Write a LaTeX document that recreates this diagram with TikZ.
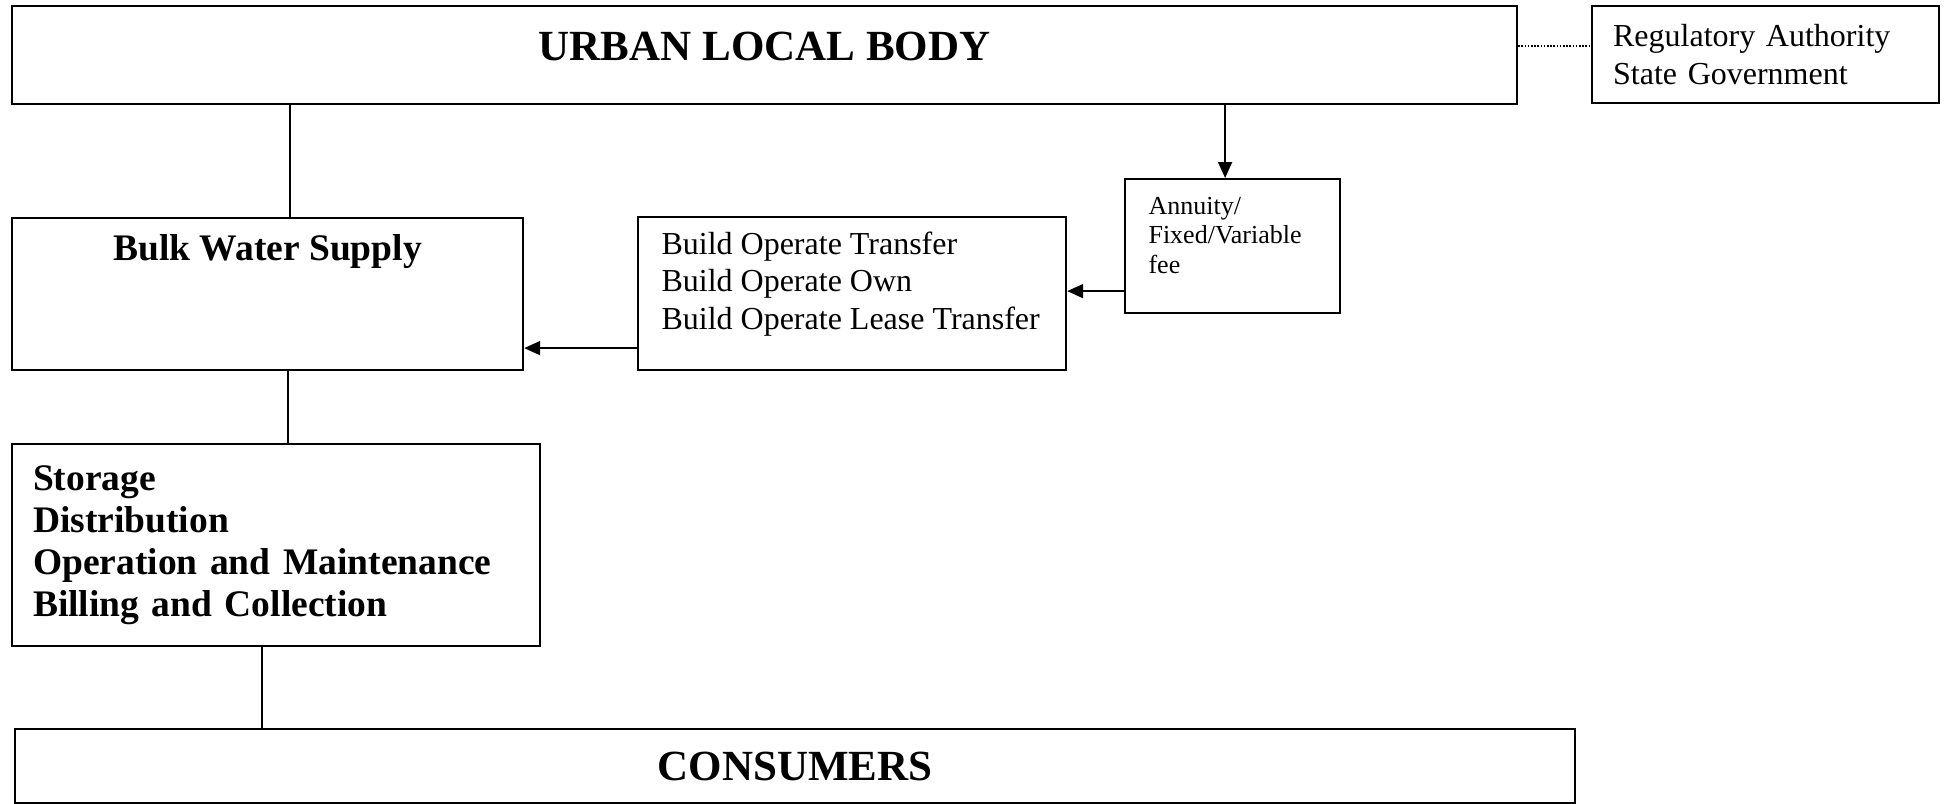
\documentclass[tikz,border=0pt]{standalone}
\usepackage{fontspec}
\setmainfont{Liberation Serif}
\usetikzlibrary{positioning,arrows.meta}
\tikzset{box/.style={draw, line width=2.2pt, inner sep=0pt, anchor=north west},
         conn/.style={line width=1.8pt},
         post/.style={-{Triangle[length=16pt,width=14pt]}, line width=1.8pt},
         dots/.style={line width=1.4pt, dash pattern=on 1.6pt off 1.6pt},
         big/.style={font=\fontsize{43}{50}\selectfont\bfseries},
         mid/.style={font=\fontsize{37.5}{42}\selectfont\bfseries, align=left},
         plain/.style={font=\fontsize{32}{37.5}\selectfont, align=left},
         small/.style={font=\fontsize{26}{29.5}\selectfont, align=left}
}

\begin{document}
\begin{tikzpicture}[x=1pt,y=1pt]
  \useasboundingbox (0,0) rectangle (1948,-803);
  \node[box, minimum width=1505pt, minimum height=98pt] (ulb) at (11,-5) {};
  \node[big] (ulbtxt) at ([yshift=9pt]ulb.center) {URBAN LOCAL BODY};
  \node[box, plain, minimum width=347pt, minimum height=97pt, text width=305pt, inner xsep=21pt] (reg) at (1591,-5) {Regulatory Authority\\State Government};
  \node[box, minimum width=215pt, minimum height=134pt] (ann) at (1124,-178) {};
  \node[small, anchor=west] (anntxt) at ([xshift=21pt,yshift=11pt]ann.west) {Annuity/\\Fixed/Variable\\fee};
  \node[box, minimum width=428pt, minimum height=153pt] (bot) at (637,-216) {};
  \node[plain, anchor=west] (bottxt) at ([xshift=21pt,yshift=9.5pt]bot.west) {Build Operate Transfer\\Build Operate Own\\Build Operate Lease Transfer};
  \node[box, minimum width=511pt, minimum height=152pt] (bulk) at (11,-217) {};
  \node[mid] (bulktxt) at ([yshift=-35pt]bulk.north) {Bulk Water Supply};
  \node[box, mid, minimum width=528pt, minimum height=202pt, text width=486pt, inner xsep=21pt] (sto) at (11,-443) {Storage\\Distribution\\Operation and Maintenance\\Billing and Collection};
  \node[box, big, minimum width=1560pt, minimum height=74pt] (cons) at (14,-728) {CONSUMERS};

  \draw[dots] ([yshift=9pt]ulb.east) -- ([yshift=9pt]ulb.east -| reg.west);
  \draw[conn] ([xshift=22.5pt]bulk.north) -- ([xshift=22.5pt]bulk.north |- ulb.south);
  \draw[conn] ([xshift=20.5pt]bulk.south) -- ([xshift=20.5pt]bulk.south |- sto.north);
  \draw[conn] ([xshift=-14pt]sto.south) -- ([xshift=-14pt]sto.south |- cons.north);
  \draw[post] ([xshift=-7.5pt]ann.north |- ulb.south) -- ([xshift=-7.5pt]ann.north);
  \draw[post] ([yshift=-45pt]ann.west) -- ([yshift=-45pt]ann.west -| bot.east);
  \draw[post] ([yshift=-54.5pt]bot.west) -- ([yshift=-54.5pt]bot.west -| bulk.east);
\end{tikzpicture}
\end{document}
